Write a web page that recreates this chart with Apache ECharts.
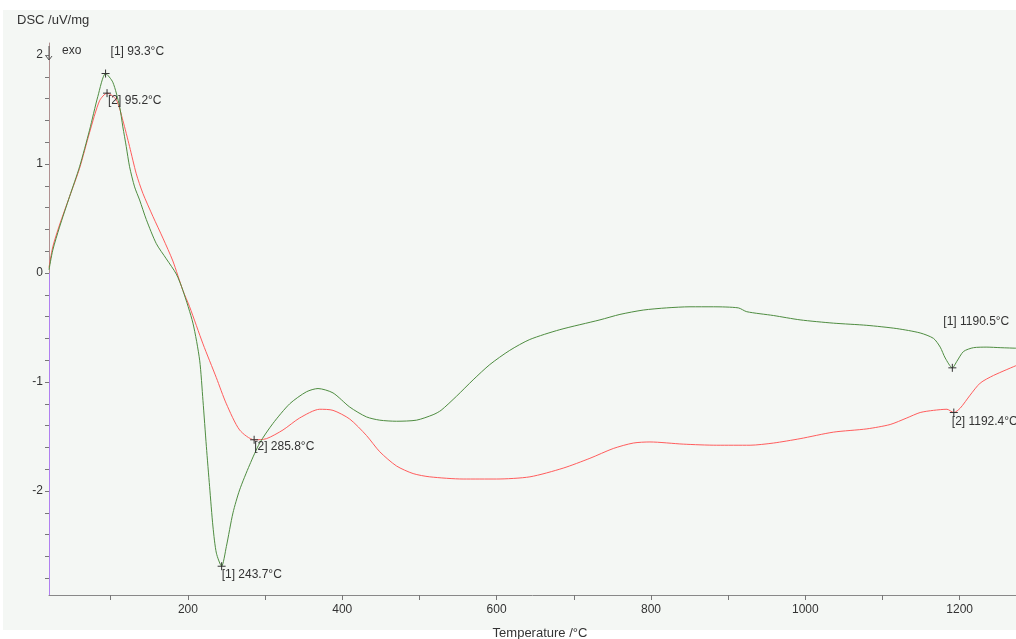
<!DOCTYPE html>
<html>
<head>
<meta charset="utf-8">
<script src="https://cdn.jsdelivr.net/npm/echarts@6/dist/echarts.min.js"></script>
<style>
html,body{margin:0;padding:0;background:#ffffff;}
#chart{width:1016px;height:639px;}
</style>
</head>
<body>
<div id="chart"></div>
<script>
// Temperature (°C) and DSC (uV/mg) for curve [1] (green)
var greenT = [20,24.9,33.6,46.6,59.6,72.5,83.3,93.3,102.7,111.4,115.7,120.1,124.4,130.9,137.4,146.1,159,172,185,193.5,206.5,215.2,219.5,223.9,228.1,232.5,236.9,243.7,249.8,258.4,267,280,293,310.2,331.9,353.5,368.6,388,409.7,431.3,448.6,470.2,496.2,517.7,528,548.1,569.6,591.2,617,643,681.9,733.9,759.8,790,820.3,850.6,880.8,913.2,924.1,958.6,993.2,1036.4,1079.7,1118.6,1148.8,1166.1,1174.8,1181.3,1190.5,1196.4,1205,1218,1235.3,1252.5,1273];
var greenV = [0.03,0.21,0.42,0.70,0.975,1.31,1.62,1.83,1.75,1.53,1.34,1.16,0.975,0.79,0.67,0.49,0.27,0.13,-0.01,-0.16,-0.46,-0.80,-1.17,-1.59,-1.96,-2.33,-2.57,-2.69,-2.51,-2.20,-1.99,-1.76,-1.56,-1.38,-1.20,-1.09,-1.06,-1.10,-1.23,-1.32,-1.35,-1.36,-1.35,-1.30,-1.26,-1.13,-0.98,-0.84,-0.71,-0.61,-0.52,-0.43,-0.38,-0.34,-0.32,-0.31,-0.31,-0.32,-0.355,-0.39,-0.43,-0.46,-0.48,-0.51,-0.55,-0.60,-0.68,-0.78,-0.87,-0.81,-0.72,-0.685,-0.68,-0.685,-0.69];
// curve [2] (red)
var redT = [20,24.9,33.6,46.6,59.6,72.6,85.5,95.2,107.2,115.7,124.4,133.1,141.7,154.6,167.6,180.5,193.5,202.2,219.5,236.8,249.8,267,285.8,301.7,323.2,344.8,370.8,388,409.7,431.3,448.6,470.2,491.8,513.4,556.6,599.9,643.1,686.3,720.9,751.2,777.1,798.7,841.9,885.2,928.4,958.6,993.2,1036.4,1079.7,1109.9,1131.5,1148.8,1166.1,1183.5,1192.4,1200.7,1213.6,1226.6,1243.8,1273];
var redV = [0.05,0.24,0.44,0.70,0.96,1.29,1.58,1.65,1.59,1.40,1.16,0.91,0.73,0.52,0.32,0.11,-0.16,-0.31,-0.65,-0.96,-1.20,-1.44,-1.53,-1.52,-1.44,-1.33,-1.25,-1.26,-1.34,-1.49,-1.64,-1.77,-1.84,-1.87,-1.89,-1.89,-1.87,-1.79,-1.70,-1.61,-1.56,-1.55,-1.57,-1.58,-1.58,-1.56,-1.52,-1.46,-1.43,-1.39,-1.33,-1.28,-1.26,-1.25,-1.28,-1.24,-1.12,-1.01,-0.94,-0.85];
// peak annotations
var greenPeaks = [[93.3,1.83,'[1] 93.3°C'],[243.7,-2.69,'[1] 243.7°C'],[1190.5,-0.87,'[1] 1190.5°C']];
var redPeaks = [[95.2,1.65,'[2] 95.2°C'],[285.8,-1.53,'[2] 285.8°C'],[1192.4,-1.28,'[2] 1192.4°C']];
// axis ticks
var xLabelValues = [200,400,600,800,1000,1200];
var xTickValues = [100,200,300,400,500,600,700,800,900,1000,1100,1200];
var yLabelValues = [-2,-1,0,1,2];
var yTickValues = [-2.8,-2.6,-2.4,-2.2,-2,-1.8,-1.6,-1.4,-1.2,-1,-0.8,-0.6,-0.4,-0.2,0,0.2,0.4,0.6,0.8,1,1.2,1.4,1.6,1.8,2];

function zip(a,b){var r=[];for(var i=0;i<a.length;i++)r.push([a[i],b[i]]);return r;}

var FONT = '"Liberation Sans", Arial, sans-serif';
var labelOffsets = {
  '[1] 93.3°C':[5,-22], '[1] 243.7°C':[0,8], '[1] 1190.5°C':[-9,-46],
  '[2] 95.2°C':[1,8], '[2] 285.8°C':[0,7], '[2] 1192.4°C':[-2,9]
};
function marks(list){
  return list.map(function(p){
    return {coord:[p[0],p[1]], value:p[2],
      label:{offset:labelOffsets[p[2]]}};
  });
}
var plusPath = 'path://M0,-5L0,5M-5,0L5,0';
function markPointCfg(list){
  return {
    symbol: plusPath, symbolSize: 8, silent:true,
    itemStyle:{color:'none', borderColor:'#333', borderWidth:1},
    label:{show:true, position:'inside', align:'left', verticalAlign:'middle',
      color:'#333', fontSize:12, fontFamily:FONT,
      formatter:function(p){return p.value;}},
    data: marks(list)
  };
}

var chart = echarts.init(document.getElementById('chart'), null, {renderer:'canvas'});
var yMin = -2.954, yMax = 2.11;
var split = yMax/(yMax - yMin);
chart.setOption({
  backgroundColor:'#ffffff',
  animation:false,
  textStyle:{fontFamily:FONT},
  graphic:[
    {type:'rect', z:-10, silent:true, shape:{x:3,y:10,width:1013,height:620}, style:{fill:'#f4f7f4'}},
    {type:'text', left:17, top:14, style:{text:'DSC /uV/mg', fill:'#333', font:'13px '+FONT}},
    {type:'text', left:62, top:45, style:{text:'exo', fill:'#333', font:'12px '+FONT}},
    {type:'polyline', z:10, shape:{points:[[49,46],[49,60]]}, style:{stroke:'#555', lineWidth:1, fill:null}},
    {type:'polyline', z:10, shape:{points:[[46,56],[49,60],[52,56]]}, style:{stroke:'#555', lineWidth:1, fill:null}}
  ],
  grid:{left:49, right:0, top:43, bottom:44, containLabel:false, outerBoundsMode:'none'},
  xAxis:{
    type:'value', min:20, max:1273,
    name:'Temperature /°C', nameLocation:'middle', nameGap:32,
    nameTextStyle:{color:'#333', fontSize:13, fontFamily:FONT, padding:[0,0,0,15]},
    axisLine:{show:true, onZero:false, lineStyle:{color:'#888', width:1}},
    axisTick:{show:true, customValues:xTickValues, length:5, lineStyle:{color:'#777'}},
    axisLabel:{show:true, customValues:xLabelValues, color:'#333', fontSize:12, fontFamily:FONT, margin:9,
      formatter:function(v){return String(v);}},
    splitLine:{show:false}
  },
  yAxis:{
    type:'value', min:yMin, max:yMax,
    axisLine:{show:true, onZero:false, lineStyle:{width:1,
      color:new echarts.graphic.LinearGradient(0,0,0,1,[
        {offset:0,color:'#b09090'},{offset:split,color:'#b09090'},
        {offset:split+0.001,color:'#b080f0'},{offset:1,color:'#b080f0'}])}},
    axisTick:{show:true, customValues:yTickValues, length:4, lineStyle:{color:'#777'}},
    axisLabel:{show:true, customValues:yLabelValues, color:'#333', fontSize:12, fontFamily:FONT, margin:6,
      formatter:function(v){return String(v);}},
    splitLine:{show:false}
  },
  series:[
    {type:'line', name:'[2]', data:zip(redT,redV), showSymbol:false, smooth:0.25,
      lineStyle:{color:'#ff5c5c', width:1}, z:2, markPoint:markPointCfg(redPeaks)},
    {type:'line', name:'[1]', data:zip(greenT,greenV), showSymbol:false, smooth:0.25,
      lineStyle:{color:'#4e8c40', width:1}, z:3, markPoint:markPointCfg(greenPeaks)}
  ]
});
</script>
</body>
</html>
